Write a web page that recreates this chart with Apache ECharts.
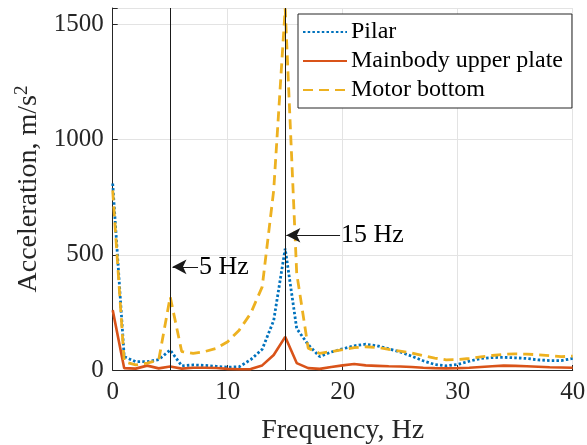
<!DOCTYPE html>
<html>
<head>
<meta charset="utf-8">
<script src="https://cdn.jsdelivr.net/npm/echarts@6/dist/echarts.min.js"></script>
<style>
html,body{margin:0;padding:0;background:#fff;overflow:hidden;}
#c{width:587px;height:445px;}
</style>
</head>
<body>
<div id="c"></div>
<script>
// Frequency (Hz)
const freq = [0,1,2,3,4,5,6,7,8,9,10,11,12,13,14,15,16,17,18,19,20,21,22,23,24,25,26,27,28,29,30,31,32,33,34,35,36,37,38,39,40];
// Pilar
const pilar = [810,58,36,36,45,87,18,22,20,16,12,14,45,90,215,527,180,110,58,78,92,105,112,105,92,78,60,40,24,18,24,38,50,54,55,53,50,44,41,41,50];
// Mainbody upper plate
const mainbody = [260,8,6,19,7,15,6,10,10,9,5,3,4,20,65,144,30,8,5,13,20,26,20,18,16,15,13,10,8,7,8,10,13,16,19,18,16,14,12,11,10];
// Motor bottom
const motor = [780,36,22,30,43,318,80,72,80,94,123,173,246,361,780,1570,420,95,72,80,88,97,101,98,90,82,74,62,52,44,45,50,57,63,68,70,69,66,62,58,60];
const seriesNames = ['Pilar','Mainbody upper plate','Motor bottom'];
const xTicks = [0,10,20,30,40];
const yTicks = [0,500,1000,1500];
// annotations: marker lines and arrows
const markerFreqs = [5,15];
const arrow5 = {tail:[7.42,448], head:[5.2,448], text:'5 Hz'};
const arrow15 = {tail:[19.77,585], head:[15.1,585], text:'15 Hz'};

const FONT = '"Liberation Serif","Times New Roman",serif';
const TXT = '#262626';
const chart = echarts.init(document.getElementById('c'), null, {renderer:'canvas', width:587, height:445});

function pairs(arr){ return freq.map((f,i)=>[f, arr[i]]); }

function arrowLine(a){
  return [{coord:a.tail, symbol:'none'}, {coord:a.head, symbol:'arrow', symbolSize:[11,14]}];
}
function arrowText(a){
  return {coord:a.tail, symbol:'circle', symbolSize:0,
    label:{show:true, position:'right', distance:1, formatter:a.text,
      fontFamily:FONT, fontSize:26, color:'#000'}};
}

const option = {
  animation:false,
  textStyle:{fontFamily:FONT},
  grid:{left:112.7, width:460, top:8, height:362, containLabel:false, outerBoundsMode:'none'},
  xAxis:{
    type:'value', min:0, max:40, interval:10,
    name:'Frequency, Hz', nameLocation:'middle', nameGap:47,
    nameTextStyle:{fontFamily:FONT, fontSize:28, color:TXT},
    axisLine:{show:true, lineStyle:{color:TXT, width:1}},
    axisTick:{show:true, inside:true, length:5, lineStyle:{color:TXT}},
    axisLabel:{fontFamily:FONT, fontSize:25, color:TXT, margin:10,
      formatter:v=> xTicks.includes(v)? String(v):''},
    splitLine:{show:true, lineStyle:{color:'#e3e3e3', width:1}}
  },
  yAxis:{
    type:'value', min:0, max:1572, interval:500,
    name:'Acceleration, m/s{sup|2}', nameLocation:'middle', nameGap:66, nameRotate:90,
    nameTextStyle:{fontFamily:FONT, fontSize:28, color:TXT,
      rich:{sup:{fontFamily:FONT, fontSize:19, color:TXT, verticalAlign:'top', padding:[0,0,14,0]}}},
    axisLine:{show:true, lineStyle:{color:TXT, width:1}},
    axisTick:{show:true, inside:true, length:5, lineStyle:{color:TXT}},
    axisLabel:{fontFamily:FONT, fontSize:25, color:TXT, margin:9,
      formatter:v=> yTicks.includes(v)? String(v):''},
    splitLine:{show:true, lineStyle:{color:'#e3e3e3', width:1}}
  },
  legend:{
    orient:'vertical', left:298, top:14,
    padding:[6,9,6,4], itemGap:5, itemWidth:44, itemHeight:14,
    backgroundColor:'#fff', borderColor:TXT, borderWidth:1, borderRadius:0,
    itemStyle:{opacity:0},
    textStyle:{fontFamily:FONT, fontSize:24, color:'#000', padding:[0,0,0,-1]},
    data:seriesNames
  },
  series:[
    {name:seriesNames[0], type:'line', data:pairs(pilar), showSymbol:false, symbol:'none',
      lineStyle:{color:'#0072BD', width:2.8, type:[2.5,2.2], cap:'butt'}, itemStyle:{color:'#0072BD'}, z:2},
    {name:seriesNames[1], type:'line', data:pairs(mainbody), showSymbol:false, symbol:'none',
      lineStyle:{color:'#D95319', width:2.6, type:'solid'}, itemStyle:{color:'#D95319'}, z:3},
    {name:seriesNames[2], type:'line', data:pairs(motor), showSymbol:false, symbol:'none',
      lineStyle:{color:'#EDB120', width:2.8, type:[10,6], cap:'butt'}, itemStyle:{color:'#EDB120'}, z:4,
      markLine:{silent:true, symbol:'none', animation:false,
        lineStyle:{color:'#1a1a1a', type:'solid', width:1},
        label:{show:false},
        data: markerFreqs.map(f=>({xAxis:f}))
          .concat([arrowLine(arrow5), arrowLine(arrow15)])
      },
      markPoint:{silent:true, animation:false, data:[arrowText(arrow5), arrowText(arrow15)]}
    }
  ]
};
chart.setOption(option);
</script>
</body>
</html>
